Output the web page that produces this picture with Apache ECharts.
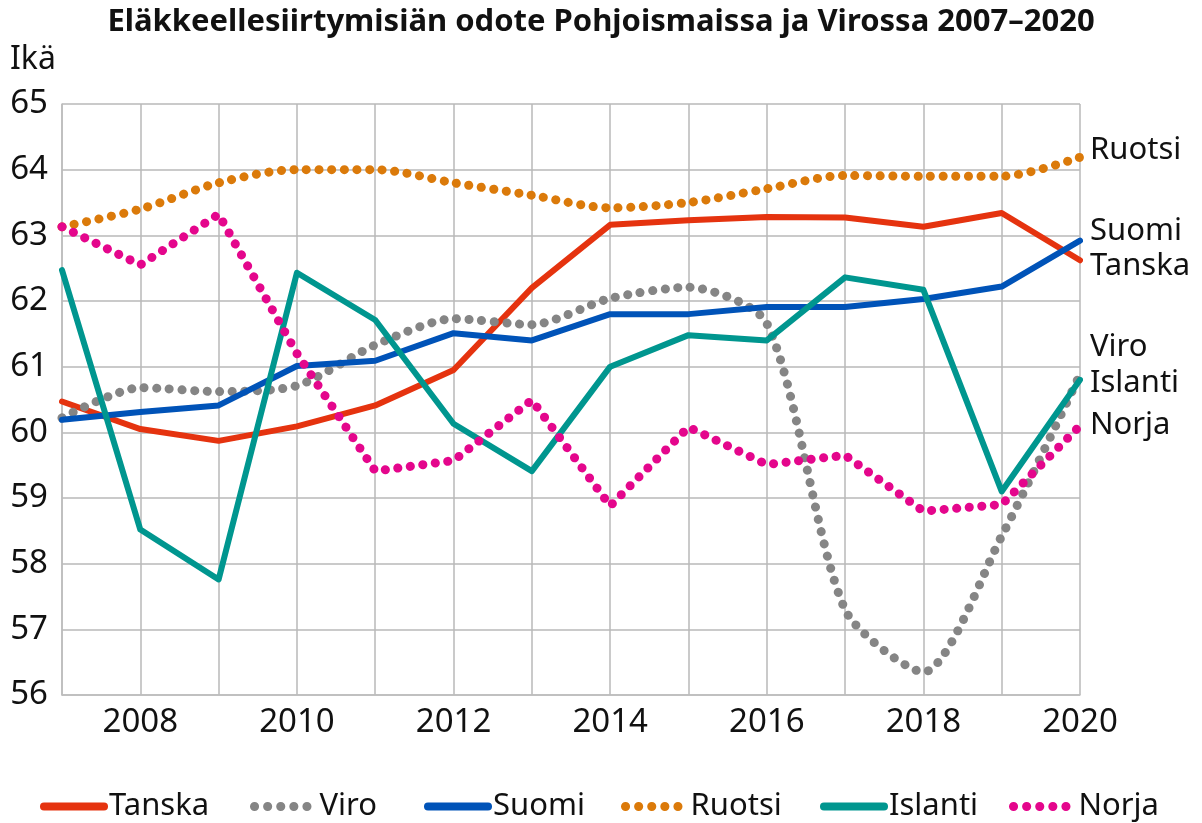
<!DOCTYPE html>
<html>
<head>
<meta charset="utf-8">
<script src="https://cdn.jsdelivr.net/npm/echarts@6/dist/echarts.min.js"></script>
<style>
  html, body { margin: 0; padding: 0; background: #fff; }
  #chart { width: 1202px; height: 823px; }
</style>
</head>
<body>
<div id="chart"></div>
<script>
var years = ["2007", "2008", "2009", "2010", "2011", "2012", "2013", "2014", "2015", "2016", "2017", "2018", "2019", "2020"];

var tanska = [60.47, 60.05, 59.87, 60.09, 60.41, 60.95, 62.2, 63.16, 63.23, 63.28, 63.27, 63.13, 63.34, 62.62];
var viro = [60.22, 60.68, 60.62, 60.71, 61.33, 61.73, 61.64, 62.04, 62.21, 61.66, 57.3, 56.35, 58.42, 60.88];
var suomi = [60.19, 60.31, 60.41, 61.01, 61.09, 61.51, 61.4, 61.8, 61.8, 61.91, 61.91, 62.03, 62.22, 62.92];
var ruotsi = [63.13, 63.4, 63.8, 64.0, 64.0, 63.8, 63.61, 63.42, 63.5, 63.71, 63.91, 63.9, 63.9, 64.19];
var islanti = [62.47, 58.52, 57.76, 62.43, 61.71, 60.13, 59.41, 61.0, 61.48, 61.4, 62.36, 62.17, 59.1, 60.8];
var norja = [63.13, 62.55, 63.32, 61.2, 59.41, 59.57, 60.49, 58.88, 60.08, 59.51, 59.65, 58.8, 58.9, 60.1];

var names = ["Tanska", "Viro", "Suomi", "Ruotsi", "Islanti", "Norja"];
var colors = ["#E5330F", "#858585", "#0053B8", "#DB7A0A", "#00968F", "#E4068C"];

var FONT = "'Noto Sans', sans-serif";
var dotted = [0.1, 12.5];

function lineSeries(name, data, color, isDotted, labelDy, smooth) {
  return {
    name: name,
    type: "line",
    data: data,
    symbol: "none",
    smooth: smooth || false,
    lineStyle: {
      color: color,
      width: isDotted ? 9 : 6,
      type: isDotted ? dotted : "solid",
      cap: "round",
      join: "round"
    },
    itemStyle: { color: color },
    endLabel: {
      show: true,
      formatter: name,
      color: "#111",
      fontFamily: FONT,
      fontSize: 31,
      distance: 10,
      offset: [0, labelDy]
    },
    emphasis: { disabled: true }
  };
}

var legendLeft = [40, 250, 424, 621, 820, 1009];
var legends = names.map(function (n, i) {
  var isDotted = i === 1 || i === 3 || i === 5;
  return {
    data: [n],
    left: legendLeft[i],
    top: 791,
    padding: 0,
    itemWidth: 60,
    itemHeight: 9,
    itemGap: 4,
    textStyle: { fontFamily: FONT, fontSize: 31, color: "#111", padding: [0, 0, 0, 0] },
    lineStyle: {
      width: isDotted ? 9 : 8,
      type: isDotted ? [0.1, 13] : "solid",
      cap: "round"
    },
    itemStyle: { opacity: 0 }
  };
});

var chart = echarts.init(document.getElementById("chart"));
chart.setOption({
  animation: false,
  title: {
    text: "Eläkkeellesiirtymisiän odote Pohjoismaissa ja Virossa 2007–2020",
    left: "center",
    top: 2,
    textStyle: { fontFamily: FONT, fontWeight: "bold", fontSize: 31, color: "#111" }
  },
  legend: legends,
  grid: { left: 62, right: 122, top: 104, bottom: 128 },
  xAxis: {
    type: "category",
    data: years,
    boundaryGap: false,
    axisLine: { show: true, lineStyle: { color: "#bdbdbd", width: 1.5 } },
    axisTick: { show: false },
    axisLabel: {
      interval: function (idx) { return idx % 2 === 1; },
      color: "#111",
      fontFamily: FONT,
      fontSize: 33,
      margin: 11
    },
    splitLine: { show: true, interval: 0, lineStyle: { color: "#b8b8b8", width: 1.5 } }
  },
  yAxis: {
    type: "value",
    min: 56,
    max: 65,
    interval: 1,
    name: "Ikä",
    nameLocation: "end",
    nameGap: 28,
    nameTextStyle: { fontFamily: FONT, fontSize: 32, color: "#111", align: "left", padding: [0, 0, 0, -52] },
    axisLine: { show: true, lineStyle: { color: "#bdbdbd", width: 1.5 } },
    axisTick: { show: false },
    axisLabel: { color: "#111", fontFamily: FONT, fontSize: 33, margin: 14 },
    splitLine: { show: true, lineStyle: { color: "#b8b8b8", width: 1.5 } }
  },
  series: [
    lineSeries(names[0], tanska, colors[0], false, 6),
    lineSeries(names[1], viro, colors[1], true, -27, 0.25),
    lineSeries(names[2], suomi, colors[2], false, -9),
    lineSeries(names[3], ruotsi, colors[3], true, -7, 0.3),
    lineSeries(names[4], islanti, colors[4], false, 3),
    lineSeries(names[5], norja, colors[5], true, -1)
  ]
});
</script>
</body>
</html>
